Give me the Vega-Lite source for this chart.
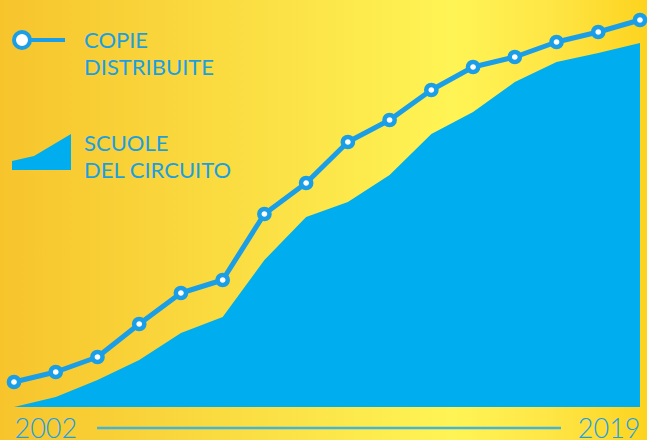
{
  "$schema": "https://vega.github.io/schema/vega-lite/v6.json",
  "width": 647,
  "height": 440,
  "padding": 0,
  "autosize": {"type": "none"},
  "background": "#fde047",
  "config": {
    "view": {
      "stroke": null,
      "fill": {
        "gradient": "linear",
        "x1": 0, "y1": 0, "x2": 1, "y2": 0,
        "stops": [
          {"offset": 0, "color": "#f7c42c"},
          {"offset": 0.35, "color": "#fadc41"},
          {"offset": 0.7, "color": "#fff455"},
          {"offset": 0.85, "color": "#fee646"},
          {"offset": 1, "color": "#fdd31f"}
        ]
      }
    },
    "style": {"guide-label": {"lineHeight": 27}}
  },
  "data": {
    "values": [
      {"punto": 0, "serie": "COPIE DISTRIBUITE", "valore": 25},
      {"punto": 1, "serie": "COPIE DISTRIBUITE", "valore": 35},
      {"punto": 2, "serie": "COPIE DISTRIBUITE", "valore": 50},
      {"punto": 3, "serie": "COPIE DISTRIBUITE", "valore": 83},
      {"punto": 4, "serie": "COPIE DISTRIBUITE", "valore": 114},
      {"punto": 5, "serie": "COPIE DISTRIBUITE", "valore": 127},
      {"punto": 6, "serie": "COPIE DISTRIBUITE", "valore": 193},
      {"punto": 7, "serie": "COPIE DISTRIBUITE", "valore": 224},
      {"punto": 8, "serie": "COPIE DISTRIBUITE", "valore": 265},
      {"punto": 9, "serie": "COPIE DISTRIBUITE", "valore": 287},
      {"punto": 10, "serie": "COPIE DISTRIBUITE", "valore": 317},
      {"punto": 11, "serie": "COPIE DISTRIBUITE", "valore": 340},
      {"punto": 12, "serie": "COPIE DISTRIBUITE", "valore": 350},
      {"punto": 13, "serie": "COPIE DISTRIBUITE", "valore": 365},
      {"punto": 14, "serie": "COPIE DISTRIBUITE", "valore": 375},
      {"punto": 15, "serie": "COPIE DISTRIBUITE", "valore": 387},
      {"punto": 0, "serie": "SCUOLE DEL CIRCUITO", "valore": 0},
      {"punto": 1, "serie": "SCUOLE DEL CIRCUITO", "valore": 10},
      {"punto": 2, "serie": "SCUOLE DEL CIRCUITO", "valore": 27},
      {"punto": 3, "serie": "SCUOLE DEL CIRCUITO", "valore": 47},
      {"punto": 4, "serie": "SCUOLE DEL CIRCUITO", "valore": 74},
      {"punto": 5, "serie": "SCUOLE DEL CIRCUITO", "valore": 90},
      {"punto": 6, "serie": "SCUOLE DEL CIRCUITO", "valore": 147},
      {"punto": 7, "serie": "SCUOLE DEL CIRCUITO", "valore": 190},
      {"punto": 8, "serie": "SCUOLE DEL CIRCUITO", "valore": 205},
      {"punto": 9, "serie": "SCUOLE DEL CIRCUITO", "valore": 232},
      {"punto": 10, "serie": "SCUOLE DEL CIRCUITO", "valore": 273},
      {"punto": 11, "serie": "SCUOLE DEL CIRCUITO", "valore": 295},
      {"punto": 12, "serie": "SCUOLE DEL CIRCUITO", "valore": 325},
      {"punto": 13, "serie": "SCUOLE DEL CIRCUITO", "valore": 345},
      {"punto": 14, "serie": "SCUOLE DEL CIRCUITO", "valore": 354},
      {"punto": 15, "serie": "SCUOLE DEL CIRCUITO", "valore": 364}
    ]
  },
  "resolve": {"scale": {"color": "independent"}, "legend": {"color": "independent"}},
  "encoding": {
    "x": {
      "field": "punto",
      "type": "quantitative",
      "scale": {"domain": [-0.3355, 15.168], "nice": false, "zero": false},
      "axis": {
        "values": [0, 15],
        "labelExpr": "datum.value == 0 ? '2002' : '2019'",
        "labelFlush": 30,
        "offset": -33,
        "ticks": false,
        "tickSize": 0,
        "domain": false,
        "grid": false,
        "title": null,
        "labelFont": "Lato",
        "labelFontSize": 27,
        "labelFontWeight": 300,
        "labelColor": "#1b9fe2",
        "labelPadding": 9,
        "labelBaseline": "top"
      }
    },
    "y": {
      "field": "valore",
      "type": "quantitative",
      "scale": {"domain": [-33, 407], "nice": false, "zero": false},
      "axis": null
    }
  },
  "layer": [
    {
      "transform": [{"filter": "datum.serie === 'SCUOLE DEL CIRCUITO'"}],
      "mark": {"type": "area", "opacity": 1, "line": false},
      "encoding": {
        "color": {
          "field": "serie",
          "type": "nominal",
          "scale": {"domain": ["SCUOLE DEL CIRCUITO"], "range": ["#00aeef"]},
          "legend": {
            "orient": "none",
            "legendX": 12,
            "legendY": 104,
            "title": null,
            "padding": 0,
            "symbolSize": 3481,
            "symbolStrokeWidth": 0,
            "symbolOpacity": 1,
            "symbolType": "M-1,1.237 L-1,0.932 L-0.254,0.763 L1,0.017 L1,1.237 Z",
            "labelOffset": 13,
            "labelFont": "Lato",
            "labelFontSize": 22,
            "labelColor": "#1b9fe2",
            "labelBaseline": "top",
            "labelLimit": 400,
            "labelExpr": "['SCUOLE', 'DEL CIRCUITO']"
          }
        }
      }
    },
    {
      "transform": [{"filter": "datum.serie === 'COPIE DISTRIBUITE'"}],
      "mark": {"type": "line", "strokeWidth": 5, "strokeJoin": "round"},
      "encoding": {
        "color": {
          "field": "serie",
          "type": "nominal",
          "scale": {"domain": ["COPIE DISTRIBUITE"], "range": ["#1a9ee8"]},
          "legend": {
            "orient": "none",
            "legendX": 10,
            "legendY": -1,
            "title": null,
            "padding": 0,
            "symbolSize": 3481,
            "symbolStrokeWidth": 4,
            "symbolOpacity": 1,
            "symbolFillColor": "#ffffff",
            "symbolType": "M-0.932,0.322 C-0.932,0.1723 -0.8107,0.051 -0.661,0.051 C-0.5113,0.051 -0.39,0.1723 -0.39,0.322 C-0.39,0.4717 -0.5113,0.593 -0.661,0.593 C-0.8107,0.593 -0.932,0.4717 -0.932,0.322 Z M-0.39,0.322 L0.797,0.322",
            "labelOffset": 11,
            "labelFont": "Lato",
            "labelFontSize": 22,
            "labelColor": "#1b9fe2",
            "labelBaseline": "top",
            "labelLimit": 400,
            "labelExpr": "['COPIE', 'DISTRIBUITE']"
          }
        }
      }
    },
    {
      "transform": [{"filter": "datum.serie === 'COPIE DISTRIBUITE'"}],
      "mark": {
        "type": "point",
        "filled": true,
        "fill": "#ffffff",
        "stroke": "#1a9ee8",
        "strokeWidth": 4.5,
        "size": 104,
        "opacity": 1
      }
    },
    {
      "transform": [{"filter": "datum.punto === 0 && datum.serie === 'COPIE DISTRIBUITE'"}],
      "mark": {"type": "rule", "color": "#45b4d6", "strokeWidth": 2.5},
      "encoding": {
        "x": {"datum": 1.99, "type": "quantitative"},
        "x2": {"datum": 13.107},
        "y": {"datum": -21, "type": "quantitative"}
      }
    }
  ]
}
